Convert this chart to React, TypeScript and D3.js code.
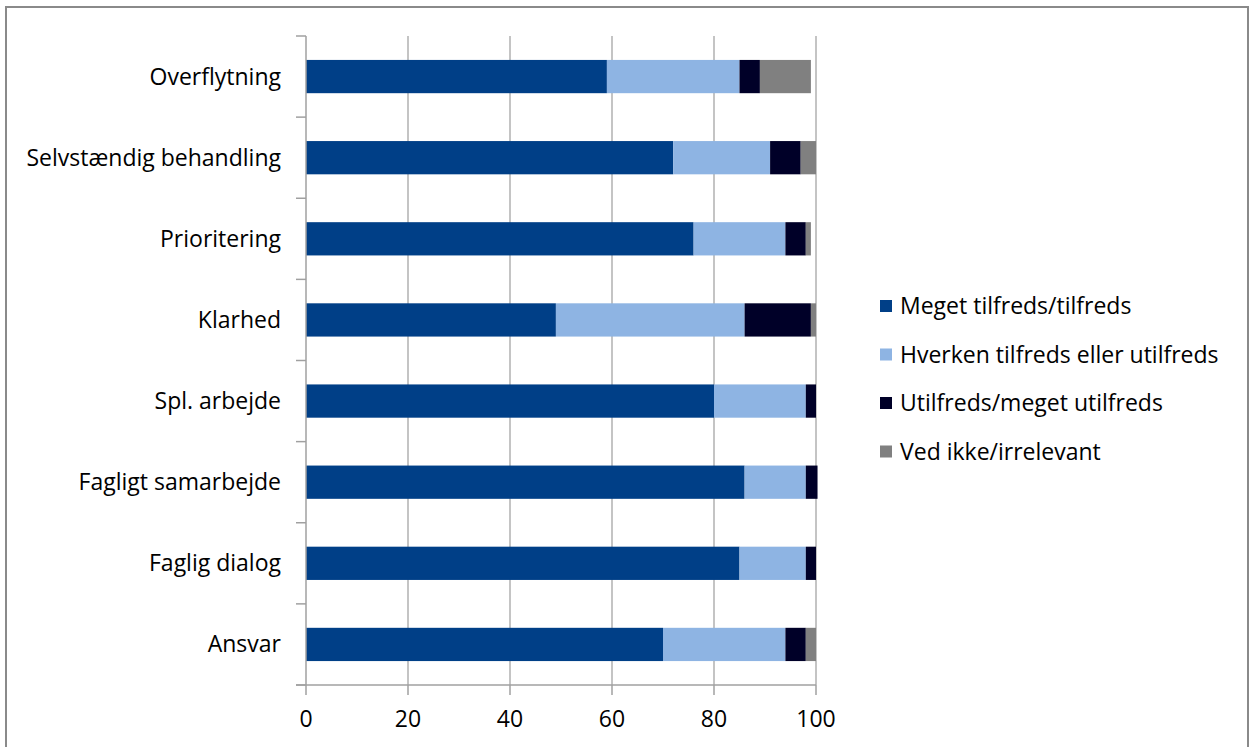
import React from "react";
import * as d3 from "d3";

const categories = [
  "Overflytning",
  "Selvstændig behandling",
  "Prioritering",
  "Klarhed",
  "Spl. arbejde",
  "Fagligt samarbejde",
  "Faglig dialog",
  "Ansvar",
];
const seriesNames = [
  "Meget tilfreds/tilfreds",
  "Hverken tilfreds eller utilfreds",
  "Utilfreds/meget utilfreds",
  "Ved ikke/irrelevant",
];
const meget = [59, 72, 76, 49, 80, 86, 85, 70];
const hverken = [26, 19, 18, 37, 18, 12, 13, 24];
const utilfreds = [4, 6, 4, 13, 2, 2.3, 2, 4];
const vedIkke = [10, 3, 1, 1, 0, 0, 0, 2];
const xTicks = [0, 20, 40, 60, 80, 100];
const colors = ["#003F87", "#8EB4E3", "#000028", "#808080"];

const W = 1251;
const H = 747;
const plotLeft = 306;
const plotRight = 816;
const plotTop = 36;
const plotBottom = 685;
const FONT = "'Open Sans', sans-serif";
const FS = 23;

export default function App() {
  const x = d3.scaleLinear().domain([0, 100]).range([plotLeft, plotRight]);
  const y = d3
    .scaleBand<string>()
    .domain(categories)
    .range([plotTop, plotBottom])
    .paddingInner(0.59)
    .paddingOuter(0.295);
  const band = d3.scaleBand<string>().domain(categories).range([plotTop, plotBottom]);
  const series = [meget, hverken, utilfreds, vedIkke];
  const rows = categories.map((c, i) => {
    const o: Record<string, number | string> = { cat: c };
    seriesNames.forEach((s, k) => (o[s] = series[k][i]));
    return o;
  });
  const stacked = d3.stack<Record<string, number | string>>().keys(seriesNames)(rows as any);
  const boundaries = categories.map((c) => band(c)!).concat([plotBottom]);

  return (
    <svg
      width={W}
      height={H}
      style={{ position: "absolute", left: 0, top: 0, background: "#fff" }}
      fontFamily={FONT}
    >
      <rect x={6} y={7} width={1242} height={760} fill="#fff" stroke="#8a8a8a" strokeWidth={2} />
      {xTicks.slice(1).map((t) => (
        <line key={t} x1={x(t)} x2={x(t)} y1={plotTop} y2={plotBottom} stroke="#b0b0b0" strokeWidth={1.5} />
      ))}
      {stacked.map((s, k) => (
        <g key={k} fill={colors[k]}>
          {s.map((d, i) => (
            <rect
              key={i}
              x={x(d[0])}
              width={Math.max(0, x(d[1]) - x(d[0]))}
              y={y(categories[i])}
              height={y.bandwidth()}
            />
          ))}
        </g>
      ))}
      <line x1={plotLeft} x2={plotLeft} y1={plotTop} y2={plotBottom} stroke="#a0a0a0" strokeWidth={1.5} />
      {boundaries.map((b, i) => (
        <line key={i} x1={plotLeft - 10} x2={plotLeft} y1={b} y2={b} stroke="#a0a0a0" strokeWidth={1.5} />
      ))}
      <line x1={plotLeft - 10} x2={plotRight} y1={plotBottom} y2={plotBottom} stroke="#a0a0a0" strokeWidth={1.5} />
      {xTicks.map((t) => (
        <g key={t}>
          <line x1={x(t)} x2={x(t)} y1={plotBottom} y2={plotBottom + 10} stroke="#a0a0a0" strokeWidth={1.5} />
          <text x={x(t)} y={plotBottom + 42} textAnchor="middle" fontSize={FS} fill="#000">
            {t}
          </text>
        </g>
      ))}
      {categories.map((c) => (
        <text
          key={c}
          x={281}
          y={y(c)! + y.bandwidth() / 2}
          dy="0.35em"
          textAnchor="end"
          fontSize={FS}
          fill="#000"
        >
          {c}
        </text>
      ))}
      {seriesNames.map((s, k) => (
        <g key={s} transform={`translate(880, ${306 + k * 48.5})`}>
          <rect x={0} y={-6} width={12} height={12} fill={colors[k]} />
          <text x={20} y={0} dy="0.35em" fontSize={FS} fill="#000">
            {s}
          </text>
        </g>
      ))}
    </svg>
  );
}
